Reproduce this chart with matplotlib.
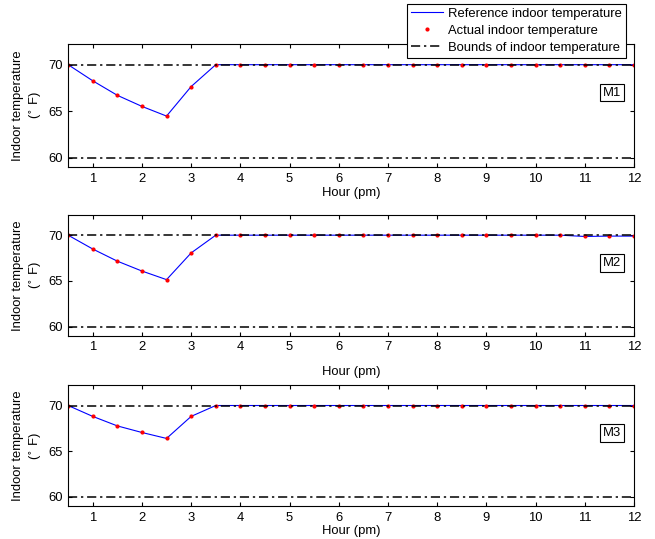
import numpy as np
import matplotlib
matplotlib.use('Agg')
import matplotlib.pyplot as plt
from matplotlib.lines import Line2D

plt.rcParams['font.family'] = ['Liberation Sans', 'DejaVu Sans']

# Hours after noon, half-hour steps
hours = [0.5, 1, 1.5, 2, 2.5, 3, 3.5, 4, 4.5, 5, 5.5, 6, 6.5, 7, 7.5, 8,
         8.5, 9, 9.5, 10, 10.5, 11, 11.5, 12]

temp_m1 = [70, 68.27, 66.71, 65.52, 64.48, 67.65] + [70] * 18
temp_m2 = [70, 68.49, 67.16, 66.08, 65.14, 68.06] + [70] * 15 + [69.86, 69.9, 69.9]
temp_m3 = [70, 68.81, 67.77, 67.05, 66.40, 68.81] + [70] * 18

upper_bound = 70
lower_bound = 60
panel_names = ['M1', 'M2', 'M3']
series = [temp_m1, temp_m2, temp_m3]
x_ticks = list(range(1, 13))
y_ticks = [60, 65, 70]

fig = plt.figure(figsize=(6.55, 5.39), dpi=100)

# axes rectangles in figure fraction
boxes = [[0.104, 0.690, 0.864, 0.228],
         [0.104, 0.377, 0.864, 0.224],
         [0.104, 0.061, 0.864, 0.224]]
label_pads = [2, 9, 1]
dashdot = (0, (6, 2.5, 1.5, 2.5))
fs = 9.4

for box, name, temps, lp in zip(boxes, panel_names, series, label_pads):
    ax = fig.add_axes(box)
    ax.plot(hours, temps, color='blue', linewidth=0.8)
    ax.plot(hours, temps, linestyle='none', marker='.', color='red', markersize=4)
    ax.axhline(upper_bound, color='black', linestyle=dashdot, linewidth=1.1)
    ax.axhline(lower_bound, color='black', linestyle=dashdot, linewidth=1.1)
    ax.set_xlim(0.5, 12)
    ax.set_ylim(59, 72.2)
    ax.set_xticks(x_ticks)
    ax.set_yticks(y_ticks)
    ax.tick_params(direction='in', top=True, right=True, labelsize=fs, length=3, pad=4)
    ax.set_xlabel('Hour (pm)', fontsize=fs, labelpad=lp)
    ax.set_ylabel('Indoor temperature\n(${}^{\\circ}$ F)', fontsize=fs, labelpad=3, linespacing=1.3)
    ax.text(0.977, 0.606, name, transform=ax.transAxes, ha='right', va='center', fontsize=fs,
            bbox=dict(boxstyle='square,pad=0.22', facecolor='white', edgecolor='black', linewidth=0.8))

handles = [Line2D([], [], color='blue', linewidth=0.8),
           Line2D([], [], linestyle='none', marker='.', color='red', markersize=4),
           Line2D([], [], color='black', linestyle=dashdot, linewidth=1.1)]
labels = ['Reference indoor temperature', 'Actual indoor temperature',
          'Bounds of indoor temperature']
leg = fig.legend(handles, labels, loc='upper right', bbox_to_anchor=(0.956, 0.993),
                 fontsize=fs, frameon=True, fancybox=False, framealpha=1,
                 edgecolor='black', borderpad=0.3, labelspacing=0.38,
                 handlelength=2.5, handletextpad=0.4, borderaxespad=0)
leg.get_frame().set_linewidth(0.8)

fig.savefig('out.png', dpi=100)
